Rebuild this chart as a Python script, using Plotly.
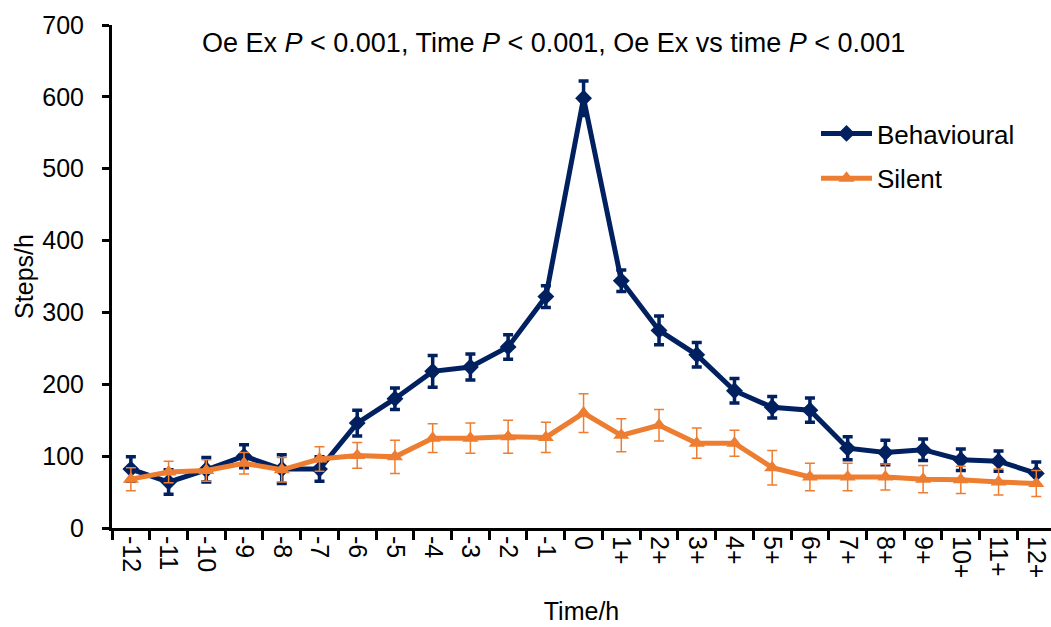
import plotly.graph_objects as go

categories = ["-12", "-11", "-10", "-9", "-8", "-7", "-6", "-5", "-4", "-3", "-2", "-1", "0",
              "1+", "2+", "3+", "4+", "5+", "6+", "7+", "8+", "9+", "10+", "11+", "12+"]
behavioural = [82, 64, 81, 100, 82, 82, 146, 180, 218, 224, 252, 322, 598,
               344, 275, 241, 191, 168, 164, 111, 105, 109, 95, 93, 76]
behavioural_err = [17, 17, 17, 16, 20, 17, 18, 15, 22, 18, 17, 15, 24,
                   15, 20, 17, 17, 15, 17, 16, 17, 15, 15, 14, 16]
silent = [68, 78, 80, 90, 81, 96, 101, 99, 125, 125, 127, 126, 160,
          129, 143, 118, 118, 84, 71, 71, 71, 68, 67, 64, 62]
silent_err = [16, 15, 15, 15, 17, 17, 18, 23, 20, 21, 23, 21, 27,
              23, 22, 21, 18, 24, 19, 19, 18, 19, 19, 18, 18]

NAVY = "#002060"
ORANGE = "#ED7D31"
FONT = "Liberation Sans, Arial, sans-serif"
FS = 25

L, T, W, H = 112, 25, 1051, 627
PW, PH = W - L, 528 - T

fig = go.Figure()
fig.add_trace(go.Scatter(
    x=categories, y=behavioural, name="Behavioural", mode="lines+markers",
    legendgroup="b",
    line=dict(color=NAVY, width=5),
    marker=dict(symbol="diamond", size=13, color=NAVY),
    error_y=dict(type="data", array=behavioural_err, color=NAVY, thickness=3.5, width=5),
))
fig.add_trace(go.Scatter(
    x=categories, y=silent, name="Silent", mode="lines+markers",
    legendgroup="s",
    line=dict(color=ORANGE, width=5),
    marker=dict(symbol="triangle-up", size=14, color=ORANGE),
    error_y=dict(type="data", array=silent_err, color=ORANGE, thickness=1.5, width=5),
))

fig.update_layout(
    width=W, height=H,
    margin=dict(l=L, r=0, t=T, b=H - 528),
    paper_bgcolor="white", plot_bgcolor="white",
    font=dict(family=FONT, size=FS, color="black"),
    showlegend=True,
    legend=dict(x=(816 - L) / PW, y=(528 - 110) / PH, xanchor="left", yanchor="top",
                font=dict(family=FONT, size=26, color="black"),
                bgcolor="rgba(0,0,0,0)", traceorder="grouped", tracegroupgap=8,
                itemwidth=51),
    annotations=[dict(
        text="Oe Ex <i>P</i> < 0.001, Time <i>P</i> < 0.001, Oe Ex vs time <i>P</i> < 0.001",
        x=(553 - L) / PW, y=(528 - 43) / PH, xref="paper", yref="paper",
        xanchor="center", yanchor="middle", showarrow=False,
        font=dict(family=FONT, size=27, color="black"))],
)

fig.update_xaxes(
    type="category", range=[-0.5, 24.39],
    showline=True, linecolor="black", linewidth=3,
    ticks="outside", ticklen=9, tickwidth=3, tickcolor="black",
    tickson="boundaries", tickangle=90,
    tickfont=dict(family=FONT, size=FS, color="black"),
    showgrid=False, zeroline=False,
    title=dict(text="Time/h", font=dict(family=FONT, size=FS), standoff=26),
)
fig.update_yaxes(
    range=[0, 700], dtick=100,
    showline=True, linecolor="black", linewidth=3,
    ticks="outside", ticklen=7, tickwidth=3, tickcolor="black",
    ticklabelstandoff=13,
    tickfont=dict(family=FONT, size=FS, color="black"),
    showgrid=False, zeroline=False,
    title=dict(text="Steps/h", font=dict(family=FONT, size=FS), standoff=2),
)

fig.write_html("out.html", config={"displayModeBar": False},
               post_script="document.body.style.margin='0';")
